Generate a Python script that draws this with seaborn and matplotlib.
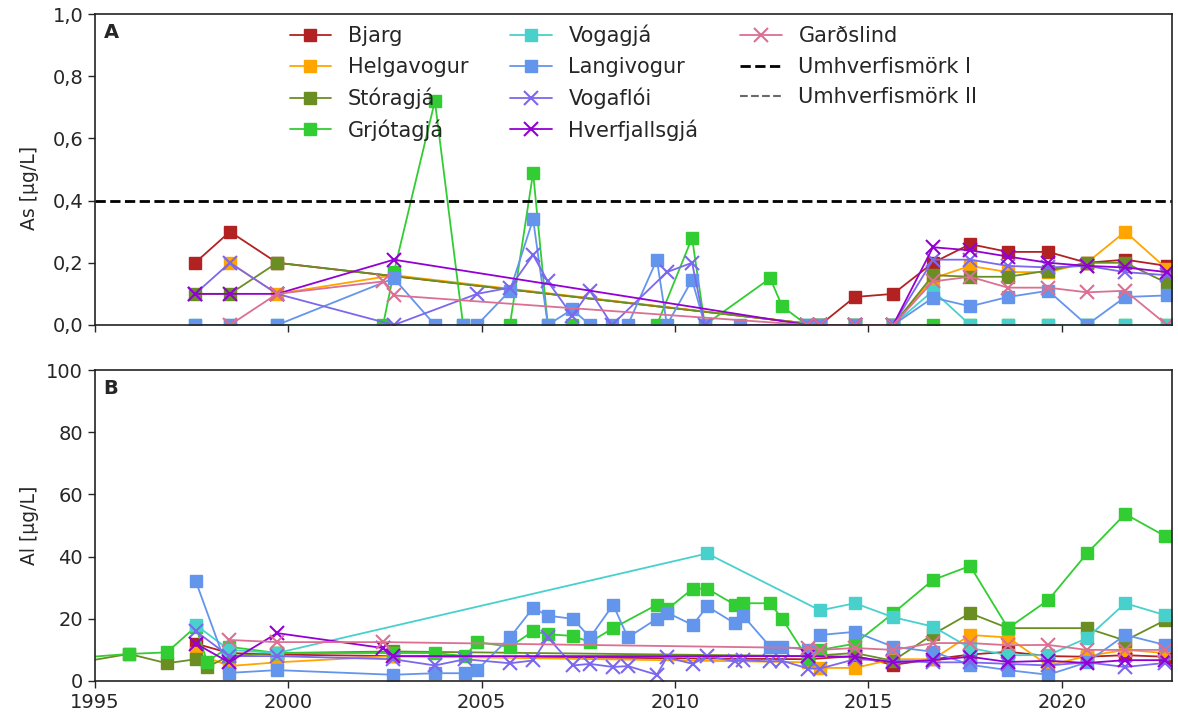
import matplotlib
matplotlib.use("Agg")
import matplotlib.pyplot as plt
import seaborn as sns
from matplotlib.ticker import FuncFormatter

N = None

sites = ["Bjarg", "Helgavogur", "Stóragjá", "Grjótagjá", "Vogagjá",
         "Langivogur", "Vogaflói", "Hverfjallsgjá", "Garðslind"]
site_colors = ["#b22222", "#ffa500", "#6b8e23", "#32cd32", "#48d1cc",
               "#6495ed", "#7b68ee", "#9400d3", "#db7093"]
site_markers = ["s", "s", "s", "s", "s", "s", "x", "x", "x"]

# sampling dates, arsenic panel
as_year = [1997.59, 1998.49, 1999.71, 2002.45, 2002.73, 2003.79, 2004.52, 2004.88,
           2005.73, 2006.33, 2006.71, 2007.34, 2007.80, 2008.37, 2008.78, 2009.53,
           2009.79, 2010.44, 2010.77, 2011.68, 2012.46, 2012.77, 2013.41, 2013.75,
           2014.65, 2015.64, 2016.67, 2017.63, 2018.61, 2019.65, 2020.65, 2021.64,
           2022.72]

bjarg_as = [0.20, 0.30, 0.20] + [N] * 20 + [0.0, 0.09, 0.10, 0.20, 0.26, 0.235, 0.235, 0.20, 0.21, 0.19]
helgavogur_as = [N, 0.20, 0.10, N, 0.16] + [N] * 18 + [0.0, 0.0, 0.0, 0.15, 0.19, 0.17, 0.17, 0.20, 0.30, 0.18]
storagja_as = [0.10, 0.10, 0.20] + [N] * 20 + [0.0, 0.0, 0.0, 0.16, 0.155, 0.155, 0.175, 0.20, 0.20, 0.135]
grjotagja_as = [N, N, N, 0.0, 0.17, 0.72, 0.0, N, 0.0, 0.49, 0.0, 0.0, N, N, N, 0.0,
                N, 0.28, 0.0, N, 0.15, 0.06, 0.0, 0.0, 0.0, 0.0, 0.0, 0.0, 0.0, 0.0,
                0.0, 0.0, 0.0]
vogagja_as = [0.0, 0.0, 0.0] + [N] * 19 + [0.0, 0.0, 0.0, 0.0, 0.11, 0.0, 0.0, 0.0, 0.0, 0.0, 0.0]
langivogur_as = [0.0, 0.0, 0.0, N, 0.15, 0.0, 0.0, 0.0, 0.11, 0.34, 0.0, 0.05, 0.0, 0.0,
                 0.0, 0.21, 0.0, 0.145, 0.0, 0.0, N, N, 0.0, 0.0, 0.0, 0.0, 0.088, 0.06,
                 0.09, 0.11, 0.0, 0.09, 0.095]
vogafloi_as = [0.10, 0.20, 0.10, N, 0.0, N, N, 0.10, 0.12, 0.225, 0.14, 0.03, 0.11, 0.0,
               N, N, 0.17, 0.20, 0.0, N, N, N, 0.0, 0.0, 0.0, 0.0, 0.21, 0.21, 0.19,
               0.185, 0.19, 0.17, 0.16]
hverfjallsgja_as = [0.10, 0.10, 0.10, N, 0.21] + [N] * 17 + [0.0, 0.0, 0.0, 0.0, 0.25, 0.24, 0.22, 0.20, 0.19, 0.185, 0.17]
gardslind_as = [N, 0.0, 0.10, 0.14, 0.095] + [N] * 17 + [0.0, 0.0, 0.0, 0.0, 0.14, 0.155, 0.12, 0.12, 0.105, 0.11, 0.0]

# sampling dates, aluminium panel
al_year = [1994.61, 1995.88, 1996.86, 1997.61, 1997.90, 1998.47, 1999.71, 2002.45,
           2002.71, 2003.79, 2004.57, 2004.88, 2005.73, 2006.33, 2006.71, 2007.36,
           2007.80, 2008.40, 2008.78, 2009.53, 2009.79, 2010.46, 2010.83, 2011.55,
           2011.76, 2012.46, 2012.77, 2013.44, 2013.75, 2014.65, 2015.64, 2016.67,
           2017.63, 2018.61, 2019.65, 2020.65, 2021.64, 2022.67]

bjarg_al = [N, N, N, 12, N, 9, 8.5, N, 8] + [N] * 18 + [7, N, 8, 5.2, 7, 8.5, 9.4, 8, 7.8, 8.3, 7.8]
helgavogur_al = [N, N, N, 9, N, 4.8, 6, N, 8] + [N] * 18 + [6, 4.2, 4.2, 7, 7, 14.8, 14, 5, 8, 10, 9]
storagja_al = [6, 8.7, 5.7, 7, 4.5, 8, 9, N, 9.5] + [N] * 18 + [8, N, 9, 6.5, 15, 21.8, 17, N, 17, 13, 19.5]
grjotagja_al = [7.5, 8.7, 9.2, 17.5, 6.2, 11, 9, N, 9, 9, 8, 12.5, 11, 16, 15, 14.5, 12.5,
                17, N, 24.5, 23, 29.7, 29.7, 24.5, 25, 25, 20, 7, 10, 12, 21.8, 32.5, 37,
                17, 26, 41, 53.7, 46.6]
vogagja_al = [N, N, N, 18, N, 10, 9] + [N] * 15 + [41] + [N] * 5 + [22.7, 25, 20.5, 17.5, 10.6, 8.3, 8.3, 13.8, 25, 21.2]
langivogur_al = [N, N, N, 32, N, 2.6, 3.5, N, 2, 2.5, 2.5, 3.5, 14, 23.5, 21, 20, 14, 24.5,
                 14, 20, 22, 18, 24, 18.5, 21, 11, 11, 10, 14.8, 15.8, 11, 9.4, 5.2, 3.5,
                 2, 6, 14.8, 11.6]
vogafloi_al = [N, N, N, 16, N, 8, 8, N, 7, 5, 7, N, 5.7, 6.6, 14, 5, 5.5, 4.5, 4.8, 2,
               7.6, 5.5, 8, 6.3, 6.7, 6.3, 6.5, 4, 4, 7, 6.5, 6, 6, 5.5, 5, 6, 4.5, 5.8]
hverfjallsgja_al = [N, N, N, 12, N, 6, 15.4, 10.6, 8] + [N] * 18 + [8, N, 7.8, 6, 6.7, 7.8, 6.1, 6.5, 5.8, 6.7, 6.7]
gardslind_al = [N, N, N, N, N, 13.2, 12.5, 12.5] + [N] * 19 + [10.6, 10, 10.6, 10, 12.2, 12.2, 11.5, 11.6, 10, 10, 10]

as_values = [bjarg_as, helgavogur_as, storagja_as, grjotagja_as, vogagja_as,
             langivogur_as, vogafloi_as, hverfjallsgja_as, gardslind_as]
al_values = [bjarg_al, helgavogur_al, storagja_al, grjotagja_al, vogagja_al,
             langivogur_al, vogafloi_al, hverfjallsgja_al, gardslind_al]

as_limit_1 = 0.4
as_limit_2 = 5.0

year_ticks = [1995, 2000, 2005, 2010, 2015, 2020]


def draw_sites(ax, years, values, with_labels):
    for name, color, marker, vals in zip(sites, site_colors, site_markers, values):
        xs = [x for x, v in zip(years, vals) if v is not None]
        ys = [v for v in vals if v is not None]
        if marker == "x":
            kw = dict(markersize=10, markeredgewidth=1.5)
        else:
            kw = dict(markersize=9, markeredgewidth=1.0)
        sns.lineplot(x=xs, y=ys, ax=ax, color=color, marker=marker, linewidth=1.3,
                     markeredgecolor=color, markerfacecolor=color,
                     label=name if with_labels else None, legend=False,
                     estimator=None, sort=False, **kw)


sns.set_style("ticks")
plt.rcParams["font.family"] = ["DejaVu Sans"]
plt.rcParams["font.size"] = 14

fig = plt.figure(figsize=(11.78, 7.22), dpi=100)
ax_a = fig.add_axes([0.0806, 0.5499, 0.9143, 0.4307])
ax_b = fig.add_axes([0.0806, 0.0568, 0.9143, 0.4307])

draw_sites(ax_a, as_year, as_values, True)
ax_a.axhline(as_limit_1, color="black", linestyle="--", linewidth=2, label="Umhverfismörk I")
ax_a.axhline(as_limit_2, color="dimgray", linestyle="--", linewidth=1.5, label="Umhverfismörk II")
draw_sites(ax_b, al_year, al_values, False)

for ax in (ax_a, ax_b):
    ax.set_xlim(1995, 2022.85)
    ax.set_xticks(year_ticks)
    ax.tick_params(labelsize=14, length=5, width=1)
    for sp in ax.spines.values():
        sp.set_linewidth(1.2)
        sp.set_color("#222222")

ax_a.set_xticklabels([])
ax_a.set_ylim(0, 1.0)
ax_a.set_yticks([0, 0.2, 0.4, 0.6, 0.8, 1.0])
ax_a.yaxis.set_major_formatter(FuncFormatter(lambda v, p: f"{v:.1f}".replace(".", ",")))
ax_a.set_ylabel("As [µg/L]", fontsize=13.5)
ax_a.yaxis.set_label_coords(-0.052, 0.44)

ax_b.set_ylim(0, 100)
ax_b.set_yticks([0, 20, 40, 60, 80, 100])
ax_b.set_ylabel("Al [µg/L]", fontsize=13.5)
ax_b.yaxis.set_label_coords(-0.052, 0.5)

ax_a.text(0.008, 0.94, "A", transform=ax_a.transAxes, fontsize=14, fontweight="bold", va="center")
ax_b.text(0.008, 0.94, "B", transform=ax_b.transAxes, fontsize=14, fontweight="bold", va="center")

handles, labels = ax_a.get_legend_handles_labels()
ax_a.legend(handles, labels, ncol=3, loc="upper center", frameon=False, fontsize=15,
            bbox_to_anchor=(0.5, 1.025), columnspacing=2.0, labelspacing=0.5,
            handletextpad=0.8)

fig.savefig("out.png", dpi=100)
